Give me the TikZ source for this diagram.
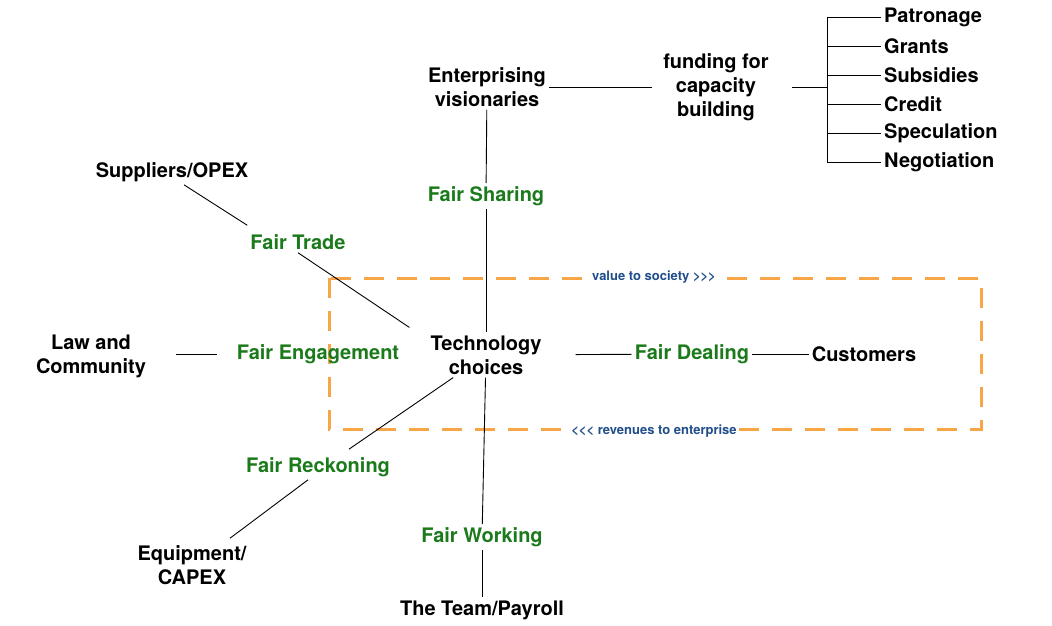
\documentclass[tikz,border=0pt]{standalone}
\usepackage{fontspec}
\setsansfont{TeX Gyre Heros}[Ligatures=TeXOff]
\definecolor{mGreen}{HTML}{1B7A1B}
\definecolor{mOrange}{HTML}{F8A548}
\definecolor{mBlue}{HTML}{1F4E8A}
\usepackage{tikz}
\usetikzlibrary{positioning,calc}
\tikzset{
  actor/.style={align=center, text=black, inner sep=3pt},
  fair/.style={text=mGreen, inner sep=3pt},
  link/.style={black, line width=0.9pt},
  flowlabel/.style={text=mBlue, fill=white, inner sep=2pt, font=\sffamily\bfseries\fontsize{13}{15}\selectfont},
}

\begin{document}
\begin{tikzpicture}[x=1pt, y=-1pt, font=\sffamily\bfseries\fontsize{20}{24}\selectfont]
\useasboundingbox (0,0) rectangle (1052,626);
% value / revenue loop round the enterprise
\draw[mOrange, line width=3pt, dash pattern=on 20pt off 13pt] (329,278) rectangle (981,429);
\node[flowlabel] (value) at (654,277) {value to society >>>};
\node[flowlabel] (revenue) at (654,431) {<<< revenues to enterprise};
% stakeholders
\node[actor] (ent) at (487,87) {Enterprising\\visionaries};
\node[actor] (fund) at (716,87) {funding for\\capacity\\building};
\node[actor] (supp) at (172,172) {Suppliers/OPEX};
\node[actor] (tech) at (486,355) {Technology\\choices};
\node[actor] (law) at (91,356) {Law and\\Community};
\node[actor] (cust) at (864,354) {Customers};
\node[actor] (equip) at (192,565) {Equipment/\\CAPEX};
\node[actor] (team) at (482,610) {The Team/Payroll};
% fairness principles
\node[fair] (share) at (486,196) {Fair Sharing};
\node[fair] (trade) at (298,242) {Fair Trade};
\node[fair] (engage) at (318,354) {Fair Engagement};
\node[fair] (deal) at (692,354) {Fair Dealing};
\node[fair] (reckon) at (318,467) {Fair Reckoning};
\node[fair] (work) at (482,537) {Fair Working};
% funding sources
\node[actor, anchor=west] (pat) at (881,17) {Patronage};
\node[actor, anchor=west] (grant) at (881,46) {Grants};
\node[actor, anchor=west] (subs) at (881,75) {Subsidies};
\node[actor, anchor=west] (cred) at (881,104) {Credit};
\node[actor, anchor=west] (spec) at (881,133) {Speculation};
\node[actor, anchor=west] (nego) at (881,162) {Negotiation};
\coordinate (brk) at (827,86);
% connectors
\draw[link, shorten >=8pt] (ent) -- (fund);
\draw[link, shorten <=20pt] (fund.east) -- (fund.east -| brk);
\draw[link] (brk |- pat) -- (brk |- nego);
\foreach \src in {pat,grant,subs,cred,spec,nego}
  \draw[link] (brk |- \src) -- (\src.west);
\draw[link] (ent) -- (share);
\draw[link] (share) -- (tech);
\draw[link] ([xshift=12pt]supp.south) -- ([yshift=6pt]trade.north west);
\draw[link] (trade.south) -- ([xshift=-18pt, yshift=5pt]tech.north west);
\draw[link, shorten <=27pt, shorten >=17pt] (engage.west -| law.east) -- (engage.west);
\draw[link, shorten <=31pt] (tech) -- (deal);
\draw[link] (deal) -- (cust);
\draw[link] (tech) -- ([xshift=31pt, yshift=5pt]reckon.north);
\draw[link] ([xshift=-10pt]reckon.south) -- ([xshift=38pt, yshift=4pt]equip.north);
\draw[link] (tech) -- (work);
\draw[link] (work) -- (team);
\end{tikzpicture}
\end{document}
